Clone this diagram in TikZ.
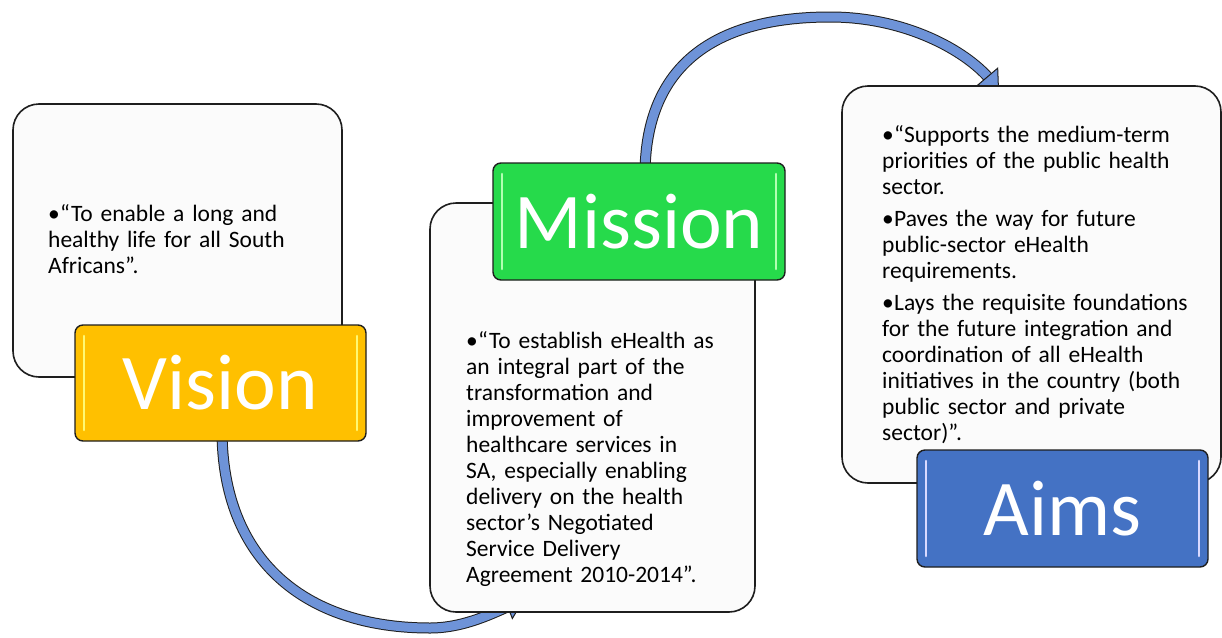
\documentclass[tikz,border=0pt]{standalone}
\usepackage{fontspec}
\setmainfont{Carlito}
\usetikzlibrary{arrows.meta}
\definecolor{boxfill}{HTML}{FBFBFB}
\definecolor{visiongold}{HTML}{FFC000}
\definecolor{missiongreen}{HTML}{26DA4B}
\definecolor{aimsblue}{HTML}{4472C4}
\definecolor{arrowblue}{HTML}{6E93D8}
\definecolor{edgedark}{HTML}{1E1E1E}
\newcommand{\bitem}[1]{\par\hangindent=12pt\hangafter=1\noindent\makebox[12pt][l]{\textbullet}\strut#1}
\tikzset{
  textbox/.style={draw=edgedark, line width=1.6pt, fill=boxfill, rounded corners=26pt},
  labelbox/.style={draw=edgedark, line width=1.4pt, rounded corners=8pt},
  labeltext/.style={text=white, font=\fontsize{79}{80}\selectfont, inner sep=0pt},
  bodytext/.style={anchor=north west, inner sep=0pt, text width=420pt, align=left,
     font=\fontsize{23.5}{26.1}\selectfont, text=black},
  gloss/.style={line width=2.6pt, line cap=round},
  bigarrow/.style={draw=edgedark, line width=1pt, double=arrowblue, double distance=9pt},
  arrowtip/.style={-{Triangle[length=18pt,width=28pt,line width=1pt,fill=arrowblue]}, draw=edgedark, line width=1pt}
}
\begin{document}
\begin{tikzpicture}[x=1pt,y=-1pt]
\useasboundingbox (0,0) rectangle (1222,637);
\fill[white] (0,0) rectangle (1222,637);

% arrows (behind boxes)
\coordinate (a1s) at (222,430);
\coordinate (a1m) at (430,628);
\coordinate (a1e) at (524,600);
\draw[bigarrow, shorten >=14pt] (a1s) .. controls (222,560) and (305,628) .. (a1m) .. controls (465,628) and (495,612) .. (a1e);
\draw[arrowtip] (507,606.5) -- (a1e);

\coordinate (a2s) at (645,175);
\coordinate (a2m) at (830,17);
\coordinate (a2e) at (999,90);
\draw[bigarrow, shorten >=14pt] (a2s) .. controls (645,65) and (715,17) .. (a2m) .. controls (905,17) and (965,50) .. (a2e);
\draw[arrowtip] (988,77) -- (a2e);

% Vision
\draw[textbox] (13,104) rectangle (342,377);
\node[bodytext] (vtext) at (48,213-18.3) {\bitem{“To enable a long and\\ healthy life for all South\\ Africans”.}};
\draw[labelbox, fill=visiongold] (75,325) rectangle (366,441);
\draw[gloss, draw=yellow!55!white] (84,336) -- (84,430);
\draw[gloss, draw=yellow!55!white] (357,336) -- (357,430);
\node[labeltext] (vlabel) at (220.5,383) {Vision};

% Mission
\draw[textbox] (430,203) rectangle (755,612);
\node[bodytext] (mtext) at (466,340-18.3) {\bitem{“To establish eHealth as\\ an integral part of the\\ transformation and\\ improvement of\\ healthcare services in\\ SA, especially enabling\\ delivery on the health\\ sector’s Negotiated\\ Service Delivery\\ Agreement 2010-2014”.}};
\draw[labelbox, fill=missiongreen] (493,163) rectangle (785,280);
\draw[gloss, draw=green!30!white] (502,174) -- (502,269);
\draw[gloss, draw=green!30!white] (776,174) -- (776,269);
\node[labeltext] (mlabel) at (639,221.5) {Mission};

% Aims
\draw[textbox] (842,86) rectangle (1221,483);
\node[bodytext] (atext) at (882,129-18.3) {\setlength{\parskip}{5.5pt}\bitem{“Supports the medium-term\\ priorities of the public health\\ sector.}\bitem{Paves the way for future\\ public-sector eHealth\\ requirements.}\bitem{Lays the requisite foundations\\ for the future integration and\\ coordination of all eHealth\\ initiatives in the country (both\\ public sector and private\\ sector)”.}};
\draw[labelbox, fill=aimsblue] (917,450) rectangle (1208,567);
\draw[gloss, draw=blue!15!white] (926,461) -- (926,556);
\draw[gloss, draw=blue!15!white] (1199,461) -- (1199,556);
\node[labeltext] (alabel) at (1062.5,508.5) {Aims};
\end{tikzpicture}
\end{document}
